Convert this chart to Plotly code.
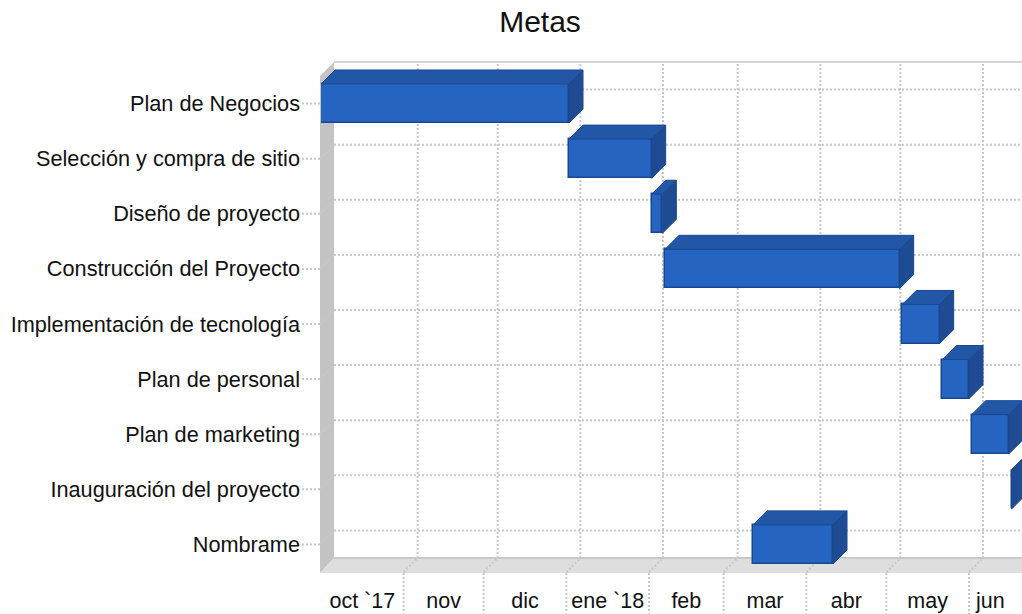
import plotly.graph_objects as go
import pandas as pd

# ---------------- data ----------------
chart_title = "Metas"
tasks = [
    "Plan de Negocios",
    "Selección y compra de sitio",
    "Diseño de proyecto",
    "Construcción del Proyecto",
    "Implementación de tecnología",
    "Plan de personal",
    "Plan de marketing",
    "Inauguración del proyecto",
    "Nombrame",
]
task_starts = ["2017-10-01", "2018-01-02", "2018-02-02", "2018-02-07", "2018-05-07",
               "2018-05-22", "2018-06-02", "2018-06-17", "2018-03-12"]
task_ends = ["2018-01-02", "2018-02-02", "2018-02-06", "2018-05-06", "2018-05-21",
             "2018-06-01", "2018-06-16", "2018-06-17", "2018-04-11"]
month_starts = ["2017-10-01", "2017-11-01", "2017-12-01", "2018-01-01", "2018-02-01",
                "2018-03-01", "2018-04-01", "2018-05-01", "2018-06-01"]
month_labels = ["oct `17", "nov", "dic", "ene `18", "feb", "mar", "abr", "may", "jun"]
axis_end_date = "2018-06-17"

# ---------------- layout constants (pixels) ----------------
W, H = 1022, 614
FX0, FX1 = 321, 1022        # front plane left / plot right edge
FY_TOP, FY_BOT = 76, 572    # front plane top / bottom
DEPTH = 14                  # 3D depth offset
PPD = (969 - 321) / 243.0   # pixels per day

FRONT = "#2565c1"
TOP = "#2257a8"
SIDE = "#1e4b91"
EDGE = "#1a4890"
GRID = "#c6c8cc"
FONT = "Arial, Liberation Sans, sans-serif"

def fx(p):
    return p / W

def fy(p):
    return 1 - p / H

n = len(tasks)
idx = list(range(n))
cat_px = (FY_BOT - FY_TOP) / n
bar_w = 0.71
dx = pd.Timedelta(days=DEPTH / PPD)
dy = DEPTH / cat_px

t0 = pd.Timestamp(month_starts[0])
x_range = [t0, t0 + pd.Timedelta(days=(FX1 - FX0) / PPD)]
y_range = [n - 0.5, -0.5 - dy]

s = pd.to_datetime(task_starts)
e = pd.to_datetime(task_ends)
dur_ms = [(b - a).total_seconds() * 1000 for a, b in zip(s, e)]

fig = go.Figure()

# front faces
fig.add_trace(go.Bar(
    orientation="h", y=idx, base=[str(v) for v in s], x=dur_ms, width=bar_w,
    marker=dict(color=FRONT, line=dict(color=EDGE, width=1.5)),
    hoverinfo="skip", showlegend=False,
))

# top and side faces
tx, ty, sx, sy = [], [], [], []
for i, (a, b) in enumerate(zip(s, e)):
    yt = i - bar_w / 2
    yb = i + bar_w / 2
    tx += [a, a + dx, b + dx, b, a, None]
    ty += [yt, yt - dy, yt - dy, yt, yt, None]
    sx += [b, b + dx, b + dx, b, b, None]
    sy += [yt, yt - dy, yb - dy, yb, yt, None]
fig.add_trace(go.Scatter(x=tx, y=ty, mode="lines", fill="toself", fillcolor=TOP,
                         line=dict(color=EDGE, width=1), hoverinfo="skip", showlegend=False))
fig.add_trace(go.Scatter(x=sx, y=sy, mode="lines", fill="toself", fillcolor=SIDE,
                         line=dict(color=EDGE, width=1), hoverinfo="skip", showlegend=False))

shapes = []
# left wall
shapes.append(dict(type="path", xref="paper", yref="paper", layer="below",
    path=f"M {fx(FX0-1)},{fy(FY_TOP)} L {fx(FX0-1+DEPTH)},{fy(FY_TOP-DEPTH)} "
         f"L {fx(FX0-1+DEPTH)},{fy(FY_BOT-DEPTH)} L {fx(FX0-1)},{fy(FY_BOT+1)} Z",
    fillcolor="#c4c4c4", line=dict(width=0)))
# floor
shapes.append(dict(type="path", xref="paper", yref="paper", layer="below",
    path=f"M {fx(FX0-1)},{fy(FY_BOT+1)} L {fx(FX0-1+DEPTH)},{fy(FY_BOT-DEPTH)} "
         f"L {fx(W+DEPTH)},{fy(FY_BOT-DEPTH)} L {fx(W)},{fy(FY_BOT+1)} Z",
    fillcolor="#dedede", line=dict(width=0)))
shapes.append(dict(type="line", xref="paper", yref="paper", layer="below",
    x0=fx(FX0-1+DEPTH), x1=fx(W), y0=fy(FY_BOT-DEPTH), y1=fy(FY_BOT-DEPTH),
    line=dict(color="#c8c8c8", width=2)))
# back wall top border
shapes.append(dict(type="line", xref="paper", yref="paper", layer="below",
    x0=fx(FX0-1+DEPTH), x1=fx(W), y0=fy(FY_TOP-DEPTH), y1=fy(FY_TOP-DEPTH),
    line=dict(color="#d4d4d4", width=2)))

dot = dict(color=GRID, width=2, dash="2px,2px")
for m in month_starts[1:]:
    # back wall vertical grid
    shapes.append(dict(type="line", xref="x", yref="paper", layer="below",
        xsizemode="pixel", xanchor=m, x0=DEPTH, x1=DEPTH,
        y0=fy(FY_BOT-DEPTH), y1=fy(FY_TOP-DEPTH), line=dot))
    # floor diagonal
    shapes.append(dict(type="line", xref="x", yref="paper", layer="below",
        xsizemode="pixel", xanchor=m, x0=0, x1=DEPTH,
        y0=fy(FY_BOT), y1=fy(FY_BOT-DEPTH), line=dot))
    # tick below floor
    shapes.append(dict(type="line", xref="x", yref="paper", layer="below",
        xsizemode="pixel", xanchor=m, x0=0, x1=0,
        y0=fy(FY_BOT+1), y1=0, line=dot))

for i in idx:
    # back wall horizontal grid
    shapes.append(dict(type="line", xref="paper", yref="y", layer="below",
        ysizemode="pixel", yanchor=i, y0=DEPTH, y1=DEPTH,
        x0=fx(FX0-1+DEPTH), x1=1, line=dot))
    # left wall diagonal
    shapes.append(dict(type="line", xref="paper", yref="y", layer="below",
        ysizemode="pixel", yanchor=i, y0=0, y1=DEPTH,
        x0=fx(FX0-1), x1=fx(FX0-1+DEPTH), line=dot))
    # left tick
    shapes.append(dict(type="line", xref="paper", yref="y", layer="below",
        ysizemode="pixel", yanchor=i, y0=0, y1=0,
        x0=fx(302), x1=fx(FX0-1), line=dot))

# tick label positions: middle of each (visible) month
bounds = list(pd.to_datetime(month_starts)) + [pd.Timestamp(axis_end_date)]
label_pos = [str(bounds[k] + (bounds[k + 1] - bounds[k]) / 2) for k in range(len(month_labels))]

fig.update_layout(
    width=W, height=H,
    margin=dict(l=0, r=0, t=0, b=0, autoexpand=False),
    paper_bgcolor="white", plot_bgcolor="rgba(0,0,0,0)",
    title=dict(text=chart_title, x=540 / W, y=1 - 21 / H, xanchor="center", yanchor="middle",
               xref="paper", yref="paper", font=dict(family=FONT, size=30, color="#111111")),
    font=dict(family=FONT, size=21.5, color="#111111"),
    bargap=0,
    shapes=shapes,
    xaxis=dict(type="date", domain=[fx(FX0), 1], range=x_range,
               tickmode="array", tickvals=label_pos, ticktext=month_labels,
               showgrid=False, zeroline=False, showline=False, ticks="",
               ticklabelstandoff=13, tickfont=dict(size=21.5, family=FONT, color="#111111"),
               fixedrange=True),
    yaxis=dict(domain=[fy(FY_BOT), fy(FY_TOP - DEPTH)], range=y_range,
               tickmode="array", tickvals=idx, ticktext=tasks,
               showgrid=False, zeroline=False, showline=False, ticks="",
               ticklabelstandoff=20, tickfont=dict(size=21.7, family=FONT, color="#111111"),
               fixedrange=True),
)

fig.write_html("out.html", config={"displayModeBar": False},
               post_script="document.body.style.margin='0px';document.body.style.overflow='hidden';")
